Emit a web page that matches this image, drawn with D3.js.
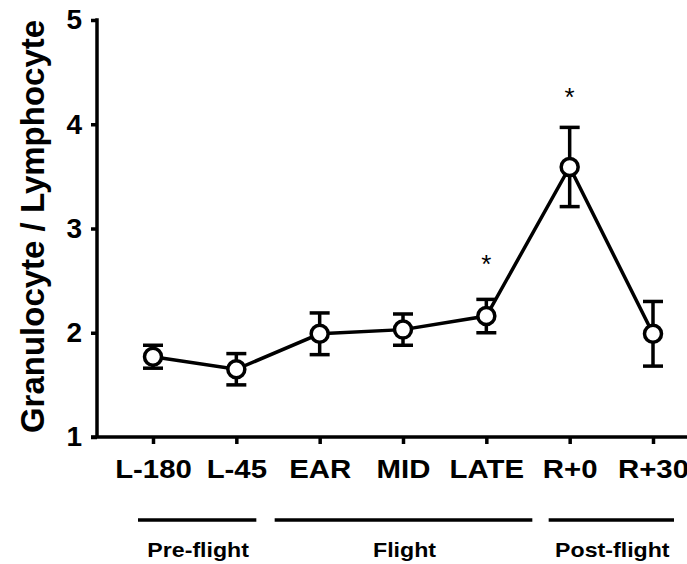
<!DOCTYPE html>
<html>
<head>
<meta charset="utf-8">
<script src="https://cdn.jsdelivr.net/npm/d3@7"></script>
<style>
  body { margin: 0; background: #fff; }
  svg text { font-family: "Liberation Sans", Arial, Helvetica, sans-serif; fill: #000; }
</style>
</head>
<body>
<div id="chart"></div>
<script>
// data
var timepoints = ["L-180", "L-45", "EAR", "MID", "LATE", "R+0", "R+30"];
var ratioMean  = [1.77, 1.65, 1.99, 2.03, 2.16, 3.59, 1.99];
var ratioErr   = [0.11, 0.15, 0.20, 0.15, 0.16, 0.38, 0.31];
var yTicks     = [1, 2, 3, 4, 5];
var starMarks  = [{at: "LATE", v: 2.72}, {at: "R+0", v: 4.32}];
var phases     = [
  {name: "Pre-flight",  from: "L-180", to: "L-45"},
  {name: "Flight",      from: "EAR",   to: "LATE"},
  {name: "Post-flight", from: "R+0",   to: "R+30"}
];

var width = 687, height = 564;
var phasePad = [[15, 20], [45, 46], [21, 21]]; // left/right overhang of phase bars
var stretch = 1.13; // glyphs in the figure are a bit wider than Arial

var svg = d3.select("#chart").append("svg")
  .attr("width", width)
  .attr("height", height);

var x = d3.scalePoint().domain(timepoints).range([153, 653]);
var y = d3.scaleLinear().domain([1, 5]).range([437, 20]);

var axisStroke = 3.5;

// y axis
var yAxis = svg.append("g")
  .attr("transform", "translate(97,0)")
  .call(d3.axisLeft(y).tickValues(yTicks).tickSize(6).tickPadding(9).tickFormat(d3.format("d")));
yAxis.select(".domain").attr("stroke-width", axisStroke).attr("d", "M0," + (y(5) - 1.75) + "V" + y(1));
yAxis.selectAll(".tick line").attr("stroke-width", axisStroke);
yAxis.selectAll(".tick text")
  .style("font-size", "28px").style("font-weight", "bold");

// x axis
var xAxis = svg.append("g")
  .attr("transform", "translate(0," + y(1) + ")")
  .call(d3.axisBottom(x).tickSize(7).tickPadding(16));
xAxis.select(".domain").attr("stroke-width", axisStroke).attr("d", "M91,0H" + width);
xAxis.selectAll(".tick line").attr("stroke-width", axisStroke);
xAxis.selectAll(".tick text")
  .attr("transform", "scale(" + stretch + ",1)")
  .style("font-size", "26px").style("font-weight", "bold");

// y title
svg.append("text")
  .attr("transform", "translate(44," + ((y(1) + y(5)) / 2 - 2) + ") rotate(-90)")
  .attr("text-anchor", "middle")
  .style("font-size", "33px").style("font-weight", "bold")
  .text("Granulocyte / Lymphocyte");

var points = timepoints.map(function(t, i) {
  return {t: t, v: ratioMean[i], e: ratioErr[i]};
});

// error bars
var eb = svg.append("g").attr("stroke", "#000").attr("stroke-width", 3.5);
points.forEach(function(p) {
  var cx = x(p.t);
  eb.append("line").attr("x1", cx).attr("x2", cx).attr("y1", y(p.v + p.e)).attr("y2", y(p.v - p.e));
  eb.append("line").attr("x1", cx - 10).attr("x2", cx + 10).attr("y1", y(p.v + p.e)).attr("y2", y(p.v + p.e));
  eb.append("line").attr("x1", cx - 10).attr("x2", cx + 10).attr("y1", y(p.v - p.e)).attr("y2", y(p.v - p.e));
});

// connecting line
svg.append("path")
  .datum(points)
  .attr("fill", "none")
  .attr("stroke", "#000")
  .attr("stroke-width", 3.5)
  .attr("d", d3.line().x(function(d) { return x(d.t); }).y(function(d) { return y(d.v); }));

// markers
svg.append("g").selectAll("circle")
  .data(points)
  .join("circle")
  .attr("cx", function(d) { return x(d.t); })
  .attr("cy", function(d) { return y(d.v); })
  .attr("r", 8.5)
  .attr("fill", "#fff")
  .attr("stroke", "#000")
  .attr("stroke-width", 3.5);

// significance stars
svg.append("g").selectAll("text")
  .data(starMarks)
  .join("text")
  .attr("x", function(d) { return x(d.at); })
  .attr("y", function(d) { return y(d.v) + 15; })
  .attr("text-anchor", "middle")
  .style("font-size", "26px")
  .text("*");

// phase bars and labels
var ph = svg.append("g");
phases.forEach(function(p, i) {
  var x0 = x(p.from) - phasePad[i][0], x1 = x(p.to) + phasePad[i][1];
  ph.append("line")
    .attr("x1", x0).attr("x2", x1).attr("y1", 520).attr("y2", 520)
    .attr("stroke", "#000").attr("stroke-width", 3.5);
  ph.append("text")
    .attr("transform", "translate(" + ((x0 + x1) / 2 + 1) + ",557) scale(" + stretch + ",1)")
    .attr("text-anchor", "middle")
    .style("font-size", "20.5px").style("font-weight", "bold")
    .text(p.name);
});
</script>
</body>
</html>
